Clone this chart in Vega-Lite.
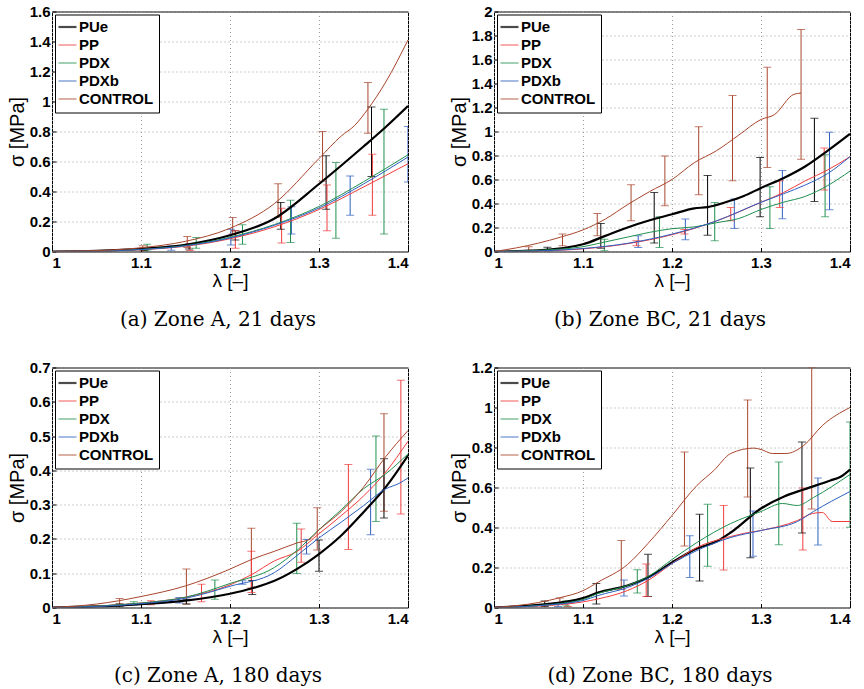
{
"$schema": "https://vega.github.io/schema/vega-lite/v6.json",
"padding": {"left": 6, "top": 3.5, "right": 5, "bottom": 5},
"columns": 2,
"spacing": {"row": 116, "column": 86},
"bounds": "flush",
"datasets": {
"curves": [
{"p":"a","s":"PUe","x":1,"y":0},{"p":"a","s":"PUe","x":1.05,"y":0.005},{"p":"a","s":"PUe","x":1.1,"y":0.018},{"p":"a","s":"PUe","x":1.15,"y":0.045},{"p":"a","s":"PUe","x":1.2,"y":0.108},{"p":"a","s":"PUe","x":1.25,"y":0.22},{"p":"a","s":"PUe","x":1.3,"y":0.45},{"p":"a","s":"PUe","x":1.35,"y":0.7},{"p":"a","s":"PUe","x":1.375,"y":0.83},{"p":"a","s":"PUe","x":1.4,"y":0.97},
{"p":"a","s":"PP","x":1,"y":0},{"p":"a","s":"PP","x":1.05,"y":0.003},{"p":"a","s":"PP","x":1.1,"y":0.012},{"p":"a","s":"PP","x":1.15,"y":0.035},{"p":"a","s":"PP","x":1.2,"y":0.085},{"p":"a","s":"PP","x":1.25,"y":0.165},{"p":"a","s":"PP","x":1.3,"y":0.28},{"p":"a","s":"PP","x":1.35,"y":0.43},{"p":"a","s":"PP","x":1.4,"y":0.585},
{"p":"a","s":"PDX","x":1,"y":0},{"p":"a","s":"PDX","x":1.05,"y":0.003},{"p":"a","s":"PDX","x":1.1,"y":0.014},{"p":"a","s":"PDX","x":1.15,"y":0.04},{"p":"a","s":"PDX","x":1.2,"y":0.095},{"p":"a","s":"PDX","x":1.25,"y":0.18},{"p":"a","s":"PDX","x":1.3,"y":0.3},{"p":"a","s":"PDX","x":1.35,"y":0.465},{"p":"a","s":"PDX","x":1.4,"y":0.645},
{"p":"a","s":"PDXb","x":1,"y":0},{"p":"a","s":"PDXb","x":1.05,"y":0.003},{"p":"a","s":"PDXb","x":1.1,"y":0.013},{"p":"a","s":"PDXb","x":1.15,"y":0.038},{"p":"a","s":"PDXb","x":1.2,"y":0.09},{"p":"a","s":"PDXb","x":1.25,"y":0.175},{"p":"a","s":"PDXb","x":1.3,"y":0.29},{"p":"a","s":"PDXb","x":1.35,"y":0.45},{"p":"a","s":"PDXb","x":1.4,"y":0.63},
{"p":"a","s":"CONTROL","x":1,"y":0},{"p":"a","s":"CONTROL","x":1.05,"y":0.006},{"p":"a","s":"CONTROL","x":1.1,"y":0.025},{"p":"a","s":"CONTROL","x":1.15,"y":0.068},{"p":"a","s":"CONTROL","x":1.2,"y":0.155},{"p":"a","s":"CONTROL","x":1.25,"y":0.32},{"p":"a","s":"CONTROL","x":1.3,"y":0.62},{"p":"a","s":"CONTROL","x":1.325,"y":0.77},{"p":"a","s":"CONTROL","x":1.34,"y":0.84},{"p":"a","s":"CONTROL","x":1.355,"y":0.95},{"p":"a","s":"CONTROL","x":1.375,"y":1.13},{"p":"a","s":"CONTROL","x":1.4,"y":1.41},
{"p":"b","s":"PUe","x":1,"y":0},{"p":"b","s":"PUe","x":1.05,"y":0.01},{"p":"b","s":"PUe","x":1.1,"y":0.06},{"p":"b","s":"PUe","x":1.125,"y":0.13},{"p":"b","s":"PUe","x":1.15,"y":0.2},{"p":"b","s":"PUe","x":1.175,"y":0.26},{"p":"b","s":"PUe","x":1.2,"y":0.31},{"p":"b","s":"PUe","x":1.225,"y":0.36},{"p":"b","s":"PUe","x":1.24,"y":0.37},{"p":"b","s":"PUe","x":1.26,"y":0.41},{"p":"b","s":"PUe","x":1.28,"y":0.46},{"p":"b","s":"PUe","x":1.3,"y":0.53},{"p":"b","s":"PUe","x":1.325,"y":0.61},{"p":"b","s":"PUe","x":1.35,"y":0.71},{"p":"b","s":"PUe","x":1.375,"y":0.84},{"p":"b","s":"PUe","x":1.4,"y":0.98},
{"p":"b","s":"PP","x":1,"y":0},{"p":"b","s":"PP","x":1.05,"y":0.005},{"p":"b","s":"PP","x":1.1,"y":0.022},{"p":"b","s":"PP","x":1.15,"y":0.065},{"p":"b","s":"PP","x":1.2,"y":0.14},{"p":"b","s":"PP","x":1.25,"y":0.255},{"p":"b","s":"PP","x":1.3,"y":0.41},{"p":"b","s":"PP","x":1.325,"y":0.49},{"p":"b","s":"PP","x":1.35,"y":0.59},{"p":"b","s":"PP","x":1.375,"y":0.68},{"p":"b","s":"PP","x":1.4,"y":0.79},
{"p":"b","s":"PDX","x":1,"y":0},{"p":"b","s":"PDX","x":1.05,"y":0.01},{"p":"b","s":"PDX","x":1.1,"y":0.04},{"p":"b","s":"PDX","x":1.125,"y":0.08},{"p":"b","s":"PDX","x":1.15,"y":0.12},{"p":"b","s":"PDX","x":1.175,"y":0.16},{"p":"b","s":"PDX","x":1.2,"y":0.19},{"p":"b","s":"PDX","x":1.225,"y":0.205},{"p":"b","s":"PDX","x":1.25,"y":0.24},{"p":"b","s":"PDX","x":1.275,"y":0.275},{"p":"b","s":"PDX","x":1.3,"y":0.35},{"p":"b","s":"PDX","x":1.325,"y":0.41},{"p":"b","s":"PDX","x":1.35,"y":0.46},{"p":"b","s":"PDX","x":1.375,"y":0.55},{"p":"b","s":"PDX","x":1.4,"y":0.67},
{"p":"b","s":"PDXb","x":1,"y":0},{"p":"b","s":"PDXb","x":1.05,"y":0.005},{"p":"b","s":"PDXb","x":1.1,"y":0.025},{"p":"b","s":"PDXb","x":1.15,"y":0.068},{"p":"b","s":"PDXb","x":1.2,"y":0.145},{"p":"b","s":"PDXb","x":1.25,"y":0.255},{"p":"b","s":"PDXb","x":1.3,"y":0.41},{"p":"b","s":"PDXb","x":1.325,"y":0.48},{"p":"b","s":"PDXb","x":1.35,"y":0.555},{"p":"b","s":"PDXb","x":1.375,"y":0.65},{"p":"b","s":"PDXb","x":1.4,"y":0.79},
{"p":"b","s":"CONTROL","x":1,"y":0},{"p":"b","s":"CONTROL","x":1.025,"y":0.03},{"p":"b","s":"CONTROL","x":1.05,"y":0.07},{"p":"b","s":"CONTROL","x":1.075,"y":0.12},{"p":"b","s":"CONTROL","x":1.1,"y":0.18},{"p":"b","s":"CONTROL","x":1.125,"y":0.27},{"p":"b","s":"CONTROL","x":1.15,"y":0.39},{"p":"b","s":"CONTROL","x":1.175,"y":0.5},{"p":"b","s":"CONTROL","x":1.2,"y":0.6},{"p":"b","s":"CONTROL","x":1.225,"y":0.74},{"p":"b","s":"CONTROL","x":1.25,"y":0.84},{"p":"b","s":"CONTROL","x":1.275,"y":0.97},{"p":"b","s":"CONTROL","x":1.3,"y":1.1},{"p":"b","s":"CONTROL","x":1.315,"y":1.14},{"p":"b","s":"CONTROL","x":1.337,"y":1.31},{"p":"b","s":"CONTROL","x":1.345,"y":1.32},
{"p":"c","s":"PUe","x":1,"y":0},{"p":"c","s":"PUe","x":1.05,"y":0.003},{"p":"c","s":"PUe","x":1.1,"y":0.01},{"p":"c","s":"PUe","x":1.15,"y":0.02},{"p":"c","s":"PUe","x":1.2,"y":0.04},{"p":"c","s":"PUe","x":1.225,"y":0.056},{"p":"c","s":"PUe","x":1.25,"y":0.078},{"p":"c","s":"PUe","x":1.275,"y":0.112},{"p":"c","s":"PUe","x":1.3,"y":0.156},{"p":"c","s":"PUe","x":1.325,"y":0.21},{"p":"c","s":"PUe","x":1.35,"y":0.278},{"p":"c","s":"PUe","x":1.375,"y":0.351},{"p":"c","s":"PUe","x":1.4,"y":0.443},
{"p":"c","s":"PP","x":1,"y":0},{"p":"c","s":"PP","x":1.05,"y":0.004},{"p":"c","s":"PP","x":1.1,"y":0.013},{"p":"c","s":"PP","x":1.15,"y":0.03},{"p":"c","s":"PP","x":1.2,"y":0.066},{"p":"c","s":"PP","x":1.225,"y":0.097},{"p":"c","s":"PP","x":1.25,"y":0.136},{"p":"c","s":"PP","x":1.275,"y":0.163},{"p":"c","s":"PP","x":1.3,"y":0.215},{"p":"c","s":"PP","x":1.325,"y":0.268},{"p":"c","s":"PP","x":1.35,"y":0.325},{"p":"c","s":"PP","x":1.375,"y":0.395},{"p":"c","s":"PP","x":1.4,"y":0.485},
{"p":"c","s":"PDX","x":1,"y":0},{"p":"c","s":"PDX","x":1.05,"y":0.004},{"p":"c","s":"PDX","x":1.1,"y":0.013},{"p":"c","s":"PDX","x":1.15,"y":0.03},{"p":"c","s":"PDX","x":1.2,"y":0.07},{"p":"c","s":"PDX","x":1.25,"y":0.117},{"p":"c","s":"PDX","x":1.275,"y":0.166},{"p":"c","s":"PDX","x":1.3,"y":0.227},{"p":"c","s":"PDX","x":1.325,"y":0.285},{"p":"c","s":"PDX","x":1.35,"y":0.346},{"p":"c","s":"PDX","x":1.375,"y":0.39},{"p":"c","s":"PDX","x":1.4,"y":0.448},
{"p":"c","s":"PDXb","x":1,"y":0},{"p":"c","s":"PDXb","x":1.05,"y":0.003},{"p":"c","s":"PDXb","x":1.1,"y":0.011},{"p":"c","s":"PDXb","x":1.15,"y":0.027},{"p":"c","s":"PDXb","x":1.2,"y":0.062},{"p":"c","s":"PDXb","x":1.25,"y":0.102},{"p":"c","s":"PDXb","x":1.275,"y":0.151},{"p":"c","s":"PDXb","x":1.3,"y":0.203},{"p":"c","s":"PDXb","x":1.325,"y":0.249},{"p":"c","s":"PDXb","x":1.35,"y":0.297},{"p":"c","s":"PDXb","x":1.375,"y":0.346},{"p":"c","s":"PDXb","x":1.39,"y":0.362},{"p":"c","s":"PDXb","x":1.4,"y":0.378},
{"p":"c","s":"CONTROL","x":1,"y":0},{"p":"c","s":"CONTROL","x":1.05,"y":0.01},{"p":"c","s":"CONTROL","x":1.1,"y":0.032},{"p":"c","s":"CONTROL","x":1.15,"y":0.063},{"p":"c","s":"CONTROL","x":1.2,"y":0.112},{"p":"c","s":"CONTROL","x":1.225,"y":0.141},{"p":"c","s":"CONTROL","x":1.25,"y":0.164},{"p":"c","s":"CONTROL","x":1.275,"y":0.188},{"p":"c","s":"CONTROL","x":1.29,"y":0.2},{"p":"c","s":"CONTROL","x":1.3,"y":0.226},{"p":"c","s":"CONTROL","x":1.325,"y":0.28},{"p":"c","s":"CONTROL","x":1.35,"y":0.351},{"p":"c","s":"CONTROL","x":1.375,"y":0.44},{"p":"c","s":"CONTROL","x":1.4,"y":0.516},
{"p":"d","s":"PUe","x":1,"y":0},{"p":"d","s":"PUe","x":1.05,"y":0.013},{"p":"d","s":"PUe","x":1.1,"y":0.047},{"p":"d","s":"PUe","x":1.117,"y":0.075},{"p":"d","s":"PUe","x":1.15,"y":0.11},{"p":"d","s":"PUe","x":1.175,"y":0.155},{"p":"d","s":"PUe","x":1.2,"y":0.225},{"p":"d","s":"PUe","x":1.228,"y":0.295},{"p":"d","s":"PUe","x":1.25,"y":0.33},{"p":"d","s":"PUe","x":1.266,"y":0.375},{"p":"d","s":"PUe","x":1.3,"y":0.495},{"p":"d","s":"PUe","x":1.326,"y":0.555},{"p":"d","s":"PUe","x":1.348,"y":0.59},{"p":"d","s":"PUe","x":1.378,"y":0.635},{"p":"d","s":"PUe","x":1.39,"y":0.655},{"p":"d","s":"PUe","x":1.4,"y":0.69},
{"p":"d","s":"PP","x":1,"y":0},{"p":"d","s":"PP","x":1.05,"y":0.007},{"p":"d","s":"PP","x":1.1,"y":0.028},{"p":"d","s":"PP","x":1.117,"y":0.043},{"p":"d","s":"PP","x":1.15,"y":0.085},{"p":"d","s":"PP","x":1.173,"y":0.135},{"p":"d","s":"PP","x":1.2,"y":0.22},{"p":"d","s":"PP","x":1.228,"y":0.3},{"p":"d","s":"PP","x":1.266,"y":0.355},{"p":"d","s":"PP","x":1.28,"y":0.37},{"p":"d","s":"PP","x":1.3,"y":0.385},{"p":"d","s":"PP","x":1.341,"y":0.435},{"p":"d","s":"PP","x":1.358,"y":0.47},{"p":"d","s":"PP","x":1.369,"y":0.475},{"p":"d","s":"PP","x":1.38,"y":0.43},{"p":"d","s":"PP","x":1.4,"y":0.43},
{"p":"d","s":"PDX","x":1,"y":0},{"p":"d","s":"PDX","x":1.05,"y":0.01},{"p":"d","s":"PDX","x":1.1,"y":0.04},{"p":"d","s":"PDX","x":1.117,"y":0.07},{"p":"d","s":"PDX","x":1.15,"y":0.11},{"p":"d","s":"PDX","x":1.175,"y":0.16},{"p":"d","s":"PDX","x":1.2,"y":0.24},{"p":"d","s":"PDX","x":1.228,"y":0.325},{"p":"d","s":"PDX","x":1.266,"y":0.42},{"p":"d","s":"PDX","x":1.3,"y":0.48},{"p":"d","s":"PDX","x":1.324,"y":0.52},{"p":"d","s":"PDX","x":1.341,"y":0.51},{"p":"d","s":"PDX","x":1.359,"y":0.55},{"p":"d","s":"PDX","x":1.4,"y":0.665},
{"p":"d","s":"PDXb","x":1,"y":0},{"p":"d","s":"PDXb","x":1.05,"y":0.009},{"p":"d","s":"PDXb","x":1.1,"y":0.035},{"p":"d","s":"PDXb","x":1.117,"y":0.06},{"p":"d","s":"PDXb","x":1.15,"y":0.1},{"p":"d","s":"PDXb","x":1.175,"y":0.15},{"p":"d","s":"PDXb","x":1.2,"y":0.22},{"p":"d","s":"PDXb","x":1.228,"y":0.285},{"p":"d","s":"PDXb","x":1.266,"y":0.35},{"p":"d","s":"PDXb","x":1.3,"y":0.385},{"p":"d","s":"PDXb","x":1.341,"y":0.43},{"p":"d","s":"PDXb","x":1.359,"y":0.48},{"p":"d","s":"PDXb","x":1.4,"y":0.58},
{"p":"d","s":"CONTROL","x":1,"y":0},{"p":"d","s":"CONTROL","x":1.05,"y":0.025},{"p":"d","s":"CONTROL","x":1.075,"y":0.05},{"p":"d","s":"CONTROL","x":1.1,"y":0.084},{"p":"d","s":"CONTROL","x":1.117,"y":0.127},{"p":"d","s":"CONTROL","x":1.15,"y":0.215},{"p":"d","s":"CONTROL","x":1.173,"y":0.32},{"p":"d","s":"CONTROL","x":1.2,"y":0.46},{"p":"d","s":"CONTROL","x":1.228,"y":0.61},{"p":"d","s":"CONTROL","x":1.247,"y":0.685},{"p":"d","s":"CONTROL","x":1.266,"y":0.77},{"p":"d","s":"CONTROL","x":1.292,"y":0.797},{"p":"d","s":"CONTROL","x":1.3,"y":0.79},{"p":"d","s":"CONTROL","x":1.313,"y":0.77},{"p":"d","s":"CONTROL","x":1.328,"y":0.77},{"p":"d","s":"CONTROL","x":1.348,"y":0.81},{"p":"d","s":"CONTROL","x":1.369,"y":0.91},{"p":"d","s":"CONTROL","x":1.4,"y":1.0}
],
"bars": [
{"p":"a","s":"CONTROL","x":1.355,"lo":0.789,"hi":1.127},{"p":"a","s":"CONTROL","x":1.304,"lo":0.469,"hi":0.8},{"p":"a","s":"CONTROL","x":1.254,"lo":0.229,"hi":0.451},{"p":"a","s":"CONTROL","x":1.203,"lo":0.116,"hi":0.227},{"p":"a","s":"CONTROL","x":1.152,"lo":0.027,"hi":0.1},{"p":"a","s":"CONTROL","x":1.102,"lo":0.005,"hi":0.038},
{"p":"a","s":"PUe","x":1.359,"lo":0.5,"hi":0.964},{"p":"a","s":"PUe","x":1.308,"lo":0.282,"hi":0.638},{"p":"a","s":"PUe","x":1.257,"lo":0.149,"hi":0.327},{"p":"a","s":"PUe","x":1.206,"lo":0.076,"hi":0.138},{"p":"a","s":"PUe","x":1.154,"lo":0.016,"hi":0.049},{"p":"a","s":"PUe","x":1.104,"lo":0.005,"hi":0.02},
{"p":"a","s":"PP","x":1.36,"lo":0.242,"hi":0.649},{"p":"a","s":"PP","x":1.309,"lo":0.138,"hi":0.444},{"p":"a","s":"PP","x":1.258,"lo":0.056,"hi":0.289},{"p":"a","s":"PP","x":1.206,"lo":0.022,"hi":0.138},{"p":"a","s":"PP","x":1.155,"lo":0.007,"hi":0.053},
{"p":"a","s":"PDX","x":1.373,"lo":0.116,"hi":0.949},{"p":"a","s":"PDX","x":1.319,"lo":0.089,"hi":0.593},{"p":"a","s":"PDX","x":1.268,"lo":0.06,"hi":0.342},{"p":"a","s":"PDX","x":1.214,"lo":0.049,"hi":0.178},{"p":"a","s":"PDX","x":1.162,"lo":0.022,"hi":0.093},{"p":"a","s":"PDX","x":1.107,"lo":0.004,"hi":0.049},
{"p":"a","s":"PDXb","x":1.4,"lo":0.464,"hi":0.833},{"p":"a","s":"PDXb","x":1.335,"lo":0.242,"hi":0.504},{"p":"a","s":"PDXb","x":1.269,"lo":0.116,"hi":0.298},{"p":"a","s":"PDXb","x":1.201,"lo":0.044,"hi":0.149},{"p":"a","s":"PDXb","x":1.134,"lo":0.009,"hi":0.038},
{"p":"b","s":"CONTROL","x":1.345,"lo":0.768,"hi":1.85},{"p":"b","s":"CONTROL","x":1.307,"lo":0.7,"hi":1.535},{"p":"b","s":"CONTROL","x":1.268,"lo":0.59,"hi":1.3},{"p":"b","s":"CONTROL","x":1.23,"lo":0.473,"hi":1.04},{"p":"b","s":"CONTROL","x":1.192,"lo":0.381,"hi":0.795},{"p":"b","s":"CONTROL","x":1.154,"lo":0.256,"hi":0.556},{"p":"b","s":"CONTROL","x":1.116,"lo":0.131,"hi":0.317},{"p":"b","s":"CONTROL","x":1.077,"lo":0.047,"hi":0.145},{"p":"b","s":"CONTROL","x":1.039,"lo":0.011,"hi":0.039},
{"p":"b","s":"PUe","x":1.36,"lo":0.417,"hi":1.11},{"p":"b","s":"PUe","x":1.299,"lo":0.289,"hi":0.784},{"p":"b","s":"PUe","x":1.24,"lo":0.136,"hi":0.634},{"p":"b","s":"PUe","x":1.18,"lo":0.07,"hi":0.492},{"p":"b","s":"PUe","x":1.12,"lo":0.028,"hi":0.234},{"p":"b","s":"PUe","x":1.06,"lo":0.005,"hi":0.035},
{"p":"b","s":"PP","x":1.371,"lo":0.512,"hi":0.862},{"p":"b","s":"PP","x":1.321,"lo":0.367,"hi":0.59},{"p":"b","s":"PP","x":1.266,"lo":0.256,"hi":0.367},{"p":"b","s":"PP","x":1.214,"lo":0.145,"hi":0.184},{"p":"b","s":"PP","x":1.16,"lo":0.047,"hi":0.089},
{"p":"b","s":"PDXb","x":1.377,"lo":0.348,"hi":0.993},{"p":"b","s":"PDXb","x":1.324,"lo":0.273,"hi":0.676},{"p":"b","s":"PDXb","x":1.27,"lo":0.192,"hi":0.437},{"p":"b","s":"PDXb","x":1.215,"lo":0.097,"hi":0.27},{"p":"b","s":"PDXb","x":1.162,"lo":0.033,"hi":0.131},
{"p":"b","s":"PDX","x":1.372,"lo":0.289,"hi":0.807},{"p":"b","s":"PDX","x":1.31,"lo":0.192,"hi":0.54},{"p":"b","s":"PDX","x":1.248,"lo":0.089,"hi":0.409},{"p":"b","s":"PDX","x":1.186,"lo":0.033,"hi":0.289},{"p":"b","s":"PDX","x":1.124,"lo":0.006,"hi":0.103},
{"p":"c","s":"CONTROL","x":1.373,"lo":0.281,"hi":0.565},{"p":"c","s":"CONTROL","x":1.298,"lo":0.168,"hi":0.291},{"p":"c","s":"CONTROL","x":1.224,"lo":0.057,"hi":0.231},{"p":"c","s":"CONTROL","x":1.151,"lo":0.01,"hi":0.112},{"p":"c","s":"CONTROL","x":1.076,"lo":0.01,"hi":0.026},
{"p":"c","s":"PUe","x":1.373,"lo":0.261,"hi":0.434},{"p":"c","s":"PUe","x":1.3,"lo":0.106,"hi":0.197},{"p":"c","s":"PUe","x":1.225,"lo":0.038,"hi":0.079},{"p":"c","s":"PUe","x":1.151,"lo":0.01,"hi":0.024},{"p":"c","s":"PUe","x":1.076,"lo":0.002,"hi":0.01},
{"p":"c","s":"PP","x":1.392,"lo":0.273,"hi":0.663},{"p":"c","s":"PP","x":1.333,"lo":0.169,"hi":0.417},{"p":"c","s":"PP","x":1.28,"lo":0.132,"hi":0.229},{"p":"c","s":"PP","x":1.224,"lo":0.044,"hi":0.164},{"p":"c","s":"PP","x":1.168,"lo":0.017,"hi":0.068},{"p":"c","s":"PP","x":1.111,"lo":0.008,"hi":0.02},
{"p":"c","s":"PDX","x":1.364,"lo":0.251,"hi":0.5},{"p":"c","s":"PDX","x":1.275,"lo":0.099,"hi":0.246},{"p":"c","s":"PDX","x":1.183,"lo":0.024,"hi":0.08},{"p":"c","s":"PDX","x":1.092,"lo":0.007,"hi":0.017},
{"p":"c","s":"PDXb","x":1.358,"lo":0.212,"hi":0.403},{"p":"c","s":"PDXb","x":1.286,"lo":0.156,"hi":0.198},{"p":"c","s":"PDXb","x":1.214,"lo":0.068,"hi":0.078},{"p":"c","s":"PDXb","x":1.143,"lo":0.013,"hi":0.029},
{"p":"d","s":"CONTROL","x":1.357,"lo":0.493,"hi":1.2},{"p":"d","s":"CONTROL","x":1.285,"lo":0.552,"hi":1.038},{"p":"d","s":"CONTROL","x":1.214,"lo":0.308,"hi":0.777},{"p":"d","s":"CONTROL","x":1.143,"lo":0.09,"hi":0.335},{"p":"d","s":"CONTROL","x":1.074,"lo":0.02,"hi":0.047},
{"p":"d","s":"PUe","x":1.346,"lo":0.373,"hi":0.827},{"p":"d","s":"PUe","x":1.288,"lo":0.249,"hi":0.697},{"p":"d","s":"PUe","x":1.231,"lo":0.132,"hi":0.466},{"p":"d","s":"PUe","x":1.173,"lo":0.055,"hi":0.266},{"p":"d","s":"PUe","x":1.115,"lo":0.017,"hi":0.12},{"p":"d","s":"PUe","x":1.057,"lo":0.005,"hi":0.033},
{"p":"d","s":"PP","x":1.347,"lo":0.287,"hi":0.597},{"p":"d","s":"PP","x":1.258,"lo":0.187,"hi":0.51},{"p":"d","s":"PP","x":1.171,"lo":0.055,"hi":0.217},{"p":"d","s":"PP","x":1.083,"lo":0.005,"hi":0.023},
{"p":"d","s":"PDX","x":1.4,"lo":0.401,"hi":0.928},{"p":"d","s":"PDX","x":1.32,"lo":0.314,"hi":0.727},{"p":"d","s":"PDX","x":1.24,"lo":0.206,"hi":0.516},{"p":"d","s":"PDX","x":1.161,"lo":0.072,"hi":0.189},{"p":"d","s":"PDX","x":1.081,"lo":0.008,"hi":0.033},
{"p":"d","s":"PDXb","x":1.364,"lo":0.313,"hi":0.647},{"p":"d","s":"PDXb","x":1.291,"lo":0.256,"hi":0.483},{"p":"d","s":"PDXb","x":1.22,"lo":0.15,"hi":0.359},{"p":"d","s":"PDXb","x":1.146,"lo":0.058,"hi":0.137},{"p":"d","s":"PDXb","x":1.072,"lo":0.005,"hi":0.025}
]
},
"concat": [
{"width":356,"height":240,"title":"(a) Zone A, 21 days",
"encoding":{"x":{"field":"x","type":"quantitative","title":"λ [–]","scale":{"domain":[1,1.4],"nice":false},"axis":{"values":[1,1.1,1.2,1.3,1.4]}},"color":{"field":"s","type":"nominal","scale":{"domain":["PUe","PP","PDX","PDXb","CONTROL"],"range":["#000000","#f23c3c","#1f8f4e","#2d5fc0","#a8452c"]},"legend":{"title":null,"symbolType":"stroke","symbolStrokeWidth":{"expr":"datum.value === 'PUe' ? 2.2 : 1.2"}}}},
"layer":[
{"data":{"name":"bars"},"transform":[{"filter":"datum.p==='a'"}],"mark":{"type":"rule","strokeWidth":1,"clip":true},"encoding":{"y":{"field":"lo","type":"quantitative","title":"σ [MPa]","scale":{"domain":[0,1.6],"nice":false},"axis":{"values":[0,0.2,0.4,0.6,0.8,1,1.2,1.4,1.6]}},"y2":{"field":"hi"}}},
{"data":{"name":"bars"},"transform":[{"filter":"datum.p==='a'"}],"mark":{"type":"tick","orient":"horizontal","size":8,"thickness":1,"clip":true},"encoding":{"y":{"field":"lo","type":"quantitative","title":"σ [MPa]","scale":{"domain":[0,1.6],"nice":false},"axis":{"values":[0,0.2,0.4,0.6,0.8,1,1.2,1.4,1.6]}}}},
{"data":{"name":"bars"},"transform":[{"filter":"datum.p==='a'"}],"mark":{"type":"tick","orient":"horizontal","size":8,"thickness":1,"clip":true},"encoding":{"y":{"field":"hi","type":"quantitative","title":"σ [MPa]","scale":{"domain":[0,1.6],"nice":false},"axis":{"values":[0,0.2,0.4,0.6,0.8,1,1.2,1.4,1.6]}}}},
{"data":{"name":"curves"},"transform":[{"filter":"datum.p==='a'"}],"mark":{"type":"line","interpolate":"monotone","clip":true},"encoding":{"y":{"field":"y","type":"quantitative","title":"σ [MPa]","scale":{"domain":[0,1.6],"nice":false},"axis":{"values":[0,0.2,0.4,0.6,0.8,1,1.2,1.4,1.6]}},"strokeWidth":{"condition":{"test":"datum.s === 'PUe'","value":2.2},"value":1}}}
]},
{"width":356,"height":240,"title":"(b) Zone BC, 21 days",
"encoding":{"x":{"field":"x","type":"quantitative","title":"λ [–]","scale":{"domain":[1,1.4],"nice":false},"axis":{"values":[1,1.1,1.2,1.3,1.4]}},"color":{"field":"s","type":"nominal","scale":{"domain":["PUe","PP","PDX","PDXb","CONTROL"],"range":["#000000","#f23c3c","#1f8f4e","#2d5fc0","#a8452c"]},"legend":{"title":null,"symbolType":"stroke","symbolStrokeWidth":{"expr":"datum.value === 'PUe' ? 2.2 : 1.2"}}}},
"layer":[
{"data":{"name":"bars"},"transform":[{"filter":"datum.p==='b'"}],"mark":{"type":"rule","strokeWidth":1,"clip":true},"encoding":{"y":{"field":"lo","type":"quantitative","title":"σ [MPa]","scale":{"domain":[0,2],"nice":false},"axis":{"values":[0,0.2,0.4,0.6,0.8,1,1.2,1.4,1.6,1.8,2]}},"y2":{"field":"hi"}}},
{"data":{"name":"bars"},"transform":[{"filter":"datum.p==='b'"}],"mark":{"type":"tick","orient":"horizontal","size":8,"thickness":1,"clip":true},"encoding":{"y":{"field":"lo","type":"quantitative","title":"σ [MPa]","scale":{"domain":[0,2],"nice":false},"axis":{"values":[0,0.2,0.4,0.6,0.8,1,1.2,1.4,1.6,1.8,2]}}}},
{"data":{"name":"bars"},"transform":[{"filter":"datum.p==='b'"}],"mark":{"type":"tick","orient":"horizontal","size":8,"thickness":1,"clip":true},"encoding":{"y":{"field":"hi","type":"quantitative","title":"σ [MPa]","scale":{"domain":[0,2],"nice":false},"axis":{"values":[0,0.2,0.4,0.6,0.8,1,1.2,1.4,1.6,1.8,2]}}}},
{"data":{"name":"curves"},"transform":[{"filter":"datum.p==='b'"}],"mark":{"type":"line","interpolate":"monotone","clip":true},"encoding":{"y":{"field":"y","type":"quantitative","title":"σ [MPa]","scale":{"domain":[0,2],"nice":false},"axis":{"values":[0,0.2,0.4,0.6,0.8,1,1.2,1.4,1.6,1.8,2]}},"strokeWidth":{"condition":{"test":"datum.s === 'PUe'","value":2.2},"value":1}}}
]},
{"width":356,"height":240,"title":"(c) Zone A, 180 days",
"encoding":{"x":{"field":"x","type":"quantitative","title":"λ [–]","scale":{"domain":[1,1.4],"nice":false},"axis":{"values":[1,1.1,1.2,1.3,1.4]}},"color":{"field":"s","type":"nominal","scale":{"domain":["PUe","PP","PDX","PDXb","CONTROL"],"range":["#000000","#f23c3c","#1f8f4e","#2d5fc0","#a8452c"]},"legend":{"title":null,"symbolType":"stroke","symbolStrokeWidth":{"expr":"datum.value === 'PUe' ? 2.2 : 1.2"}}}},
"layer":[
{"data":{"name":"bars"},"transform":[{"filter":"datum.p==='c'"}],"mark":{"type":"rule","strokeWidth":1,"clip":true},"encoding":{"y":{"field":"lo","type":"quantitative","title":"σ [MPa]","scale":{"domain":[0,0.7],"nice":false},"axis":{"values":[0,0.1,0.2,0.3,0.4,0.5,0.6,0.7]}},"y2":{"field":"hi"}}},
{"data":{"name":"bars"},"transform":[{"filter":"datum.p==='c'"}],"mark":{"type":"tick","orient":"horizontal","size":8,"thickness":1,"clip":true},"encoding":{"y":{"field":"lo","type":"quantitative","title":"σ [MPa]","scale":{"domain":[0,0.7],"nice":false},"axis":{"values":[0,0.1,0.2,0.3,0.4,0.5,0.6,0.7]}}}},
{"data":{"name":"bars"},"transform":[{"filter":"datum.p==='c'"}],"mark":{"type":"tick","orient":"horizontal","size":8,"thickness":1,"clip":true},"encoding":{"y":{"field":"hi","type":"quantitative","title":"σ [MPa]","scale":{"domain":[0,0.7],"nice":false},"axis":{"values":[0,0.1,0.2,0.3,0.4,0.5,0.6,0.7]}}}},
{"data":{"name":"curves"},"transform":[{"filter":"datum.p==='c'"}],"mark":{"type":"line","interpolate":"monotone","clip":true},"encoding":{"y":{"field":"y","type":"quantitative","title":"σ [MPa]","scale":{"domain":[0,0.7],"nice":false},"axis":{"values":[0,0.1,0.2,0.3,0.4,0.5,0.6,0.7]}},"strokeWidth":{"condition":{"test":"datum.s === 'PUe'","value":2.2},"value":1}}}
]},
{"width":356,"height":240,"title":"(d) Zone BC, 180 days",
"encoding":{"x":{"field":"x","type":"quantitative","title":"λ [–]","scale":{"domain":[1,1.4],"nice":false},"axis":{"values":[1,1.1,1.2,1.3,1.4]}},"color":{"field":"s","type":"nominal","scale":{"domain":["PUe","PP","PDX","PDXb","CONTROL"],"range":["#000000","#f23c3c","#1f8f4e","#2d5fc0","#a8452c"]},"legend":{"title":null,"symbolType":"stroke","symbolStrokeWidth":{"expr":"datum.value === 'PUe' ? 2.2 : 1.2"}}}},
"layer":[
{"data":{"name":"bars"},"transform":[{"filter":"datum.p==='d'"}],"mark":{"type":"rule","strokeWidth":1,"clip":true},"encoding":{"y":{"field":"lo","type":"quantitative","title":"σ [MPa]","scale":{"domain":[0,1.2],"nice":false},"axis":{"values":[0,0.2,0.4,0.6,0.8,1,1.2]}},"y2":{"field":"hi"}}},
{"data":{"name":"bars"},"transform":[{"filter":"datum.p==='d'"}],"mark":{"type":"tick","orient":"horizontal","size":8,"thickness":1,"clip":true},"encoding":{"y":{"field":"lo","type":"quantitative","title":"σ [MPa]","scale":{"domain":[0,1.2],"nice":false},"axis":{"values":[0,0.2,0.4,0.6,0.8,1,1.2]}}}},
{"data":{"name":"bars"},"transform":[{"filter":"datum.p==='d'"}],"mark":{"type":"tick","orient":"horizontal","size":8,"thickness":1,"clip":true},"encoding":{"y":{"field":"hi","type":"quantitative","title":"σ [MPa]","scale":{"domain":[0,1.2],"nice":false},"axis":{"values":[0,0.2,0.4,0.6,0.8,1,1.2]}}}},
{"data":{"name":"curves"},"transform":[{"filter":"datum.p==='d'"}],"mark":{"type":"line","interpolate":"monotone","clip":true},"encoding":{"y":{"field":"y","type":"quantitative","title":"σ [MPa]","scale":{"domain":[0,1.2],"nice":false},"axis":{"values":[0,0.2,0.4,0.6,0.8,1,1.2]}},"strokeWidth":{"condition":{"test":"datum.s === 'PUe'","value":2.2},"value":1}}}
]}
],
"resolve": {"scale": {"color": "independent", "x": "independent", "y": "independent"}, "legend": {"color": "independent"}},
"config": {
"font": "Liberation Sans",
"background": "white",
"view": {"stroke": "black", "strokeWidth": 1},
"axis": {"domain": false, "grid": true, "gridColor": "#9a9a9a", "gridDash": [1, 3], "gridWidth": 1, "tickColor": "black", "tickSize": -4, "labelFont": "Liberation Sans", "labelFontWeight": "bold", "labelFontSize": 15, "labelColor": "black", "labelOverlap": false, "format": "~g", "titleFont": "Liberation Sans", "titleFontWeight": "normal", "titleColor": "black"},
"axisX": {"labelPadding": 8, "titleFontSize": 19, "titleY": 20, "titleBaseline": "top"},
"axisY": {"titlePadding": 2, "labelPadding": 6, "titleFontSize": 20},
"legend": {"orient": "top-left", "offset": 3, "strokeColor": "black", "fillColor": "white", "padding": 5, "symbolType": "stroke", "symbolSize": 324, "labelFont": "Liberation Sans", "labelFontWeight": "bold", "labelFontSize": 15, "labelColor": "black", "labelOffset": 4, "rowPadding": 2},
"title": {"font": "DejaVu Serif", "fontSize": 20, "fontWeight": "normal", "orient": "bottom", "offset": 19, "color": "black", "dx": -12}
}
}
